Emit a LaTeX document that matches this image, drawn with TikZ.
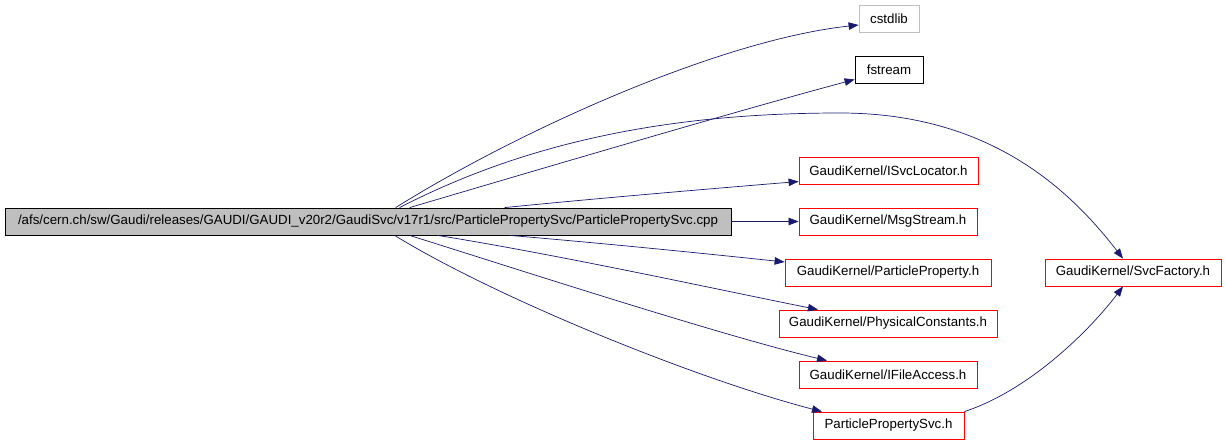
\documentclass[tikz,border=0pt]{standalone}
\usepackage{fontspec}
\setmainfont{Liberation Sans}
\usepackage{xcolor}
\usetikzlibrary{arrows.meta,calc,positioning}

\definecolor{edgeblue}{RGB}{25,25,112}
\definecolor{boxgray}{RGB}{191,191,191}

\begin{document}
\begin{tikzpicture}[
    %	style def
    x=1pt, y=-1pt,
    file box/.style={draw=red, line width=0.8pt, minimum height=27pt, inner sep=0pt, font=\fontsize{13.3}{15}\selectfont},
    sys box/.style={file box, draw=boxgray},
    known box/.style={file box, draw=black},
    main box/.style={file box, draw=black, fill=boxgray},
    dep line/.style={draw=edgeblue, line width=0.7pt, -{Triangle[length=10pt,width=7.5pt]}}
    ]
    \useasboundingbox (0,0) rectangle (1226,442);

    % source file
    \node[main box, minimum width=726pt] (cpp) at (368,221.5) {/afs/cern.ch/sw/Gaudi/releases/GAUDI/GAUDI\_v20r2/GaudiSvc/v17r1/src/ParticlePropertySvc/ParticlePropertySvc.cpp};

    % included headers
    \node[sys box, minimum width=60pt] (cstdlib) at (889,18.5) {cstdlib};
    \node[known box, minimum width=68pt] (fstream) at (889,69.5) {fstream};
    \node[file box, minimum width=179pt] (locator) at (888.5,170.5) {GaudiKernel/ISvcLocator.h};
    \node[file box, minimum width=178pt] (msgstream) at (888,221.5) {GaudiKernel/MsgStream.h};
    \node[file box, minimum width=206pt] (partprop) at (888,272.5) {GaudiKernel/ParticleProperty.h};
    \node[file box, minimum width=218pt] (physconst) at (888,323.5) {GaudiKernel/PhysicalConstants.h};
    \node[file box, minimum width=178pt] (fileaccess) at (888,374.5) {GaudiKernel/IFileAccess.h};
    \node[file box, minimum width=151pt] (svcheader) at (888.5,425.5) {ParticlePropertySvc.h};
    \node[file box, minimum width=176pt] (factory) at (1133,272.5) {GaudiKernel/SvcFactory.h};

    % edges going up
    \draw[dep line] ([xshift=391pt]cpp.north west) .. controls (520,130) and (720,40) .. ([yshift=-6.5pt]cstdlib.west);
    \draw[dep line] ([xshift=405pt]cpp.north west) .. controls (520,175) and (740,110) .. ([yshift=-10pt]fstream.west);
    \draw[dep line] ([xshift=395pt]cpp.north west) .. controls (540,135) and (690,113) .. (840,113) coordinate (top)
                    .. controls (990,113) and (1070,190) .. ([xshift=-10pt]factory.north);
    \draw[dep line] ([xshift=500pt]cpp.north west) .. controls (600,198) and (720,188) .. ([yshift=-11pt]locator.west);
    % straight edge
    \draw[dep line] (cpp.east) -- (msgstream.west);
    % edges going down
    \draw[dep line] ([xshift=505pt]cpp.south west) .. controls (600,243) and (700,253) .. ([yshift=10.5pt]partprop.west);
    \draw[dep line] ([xshift=433pt]cpp.south west) .. controls (560,255) and (720,290) .. ([xshift=-70pt]physconst.north);
    \draw[dep line] ([xshift=405pt]cpp.south west) .. controls (520,270) and (720,335) .. ([xshift=-61pt]fileaccess.north);
    \draw[dep line] ([xshift=390pt]cpp.south west) .. controls (500,300) and (700,380) .. ([xshift=-66.5pt]svcheader.north);
    % header to factory
    \draw[dep line] (svcheader.north east) .. controls (1030,390) and (1090,330) .. ([xshift=-10pt]factory.south);
\end{tikzpicture}
\end{document}
